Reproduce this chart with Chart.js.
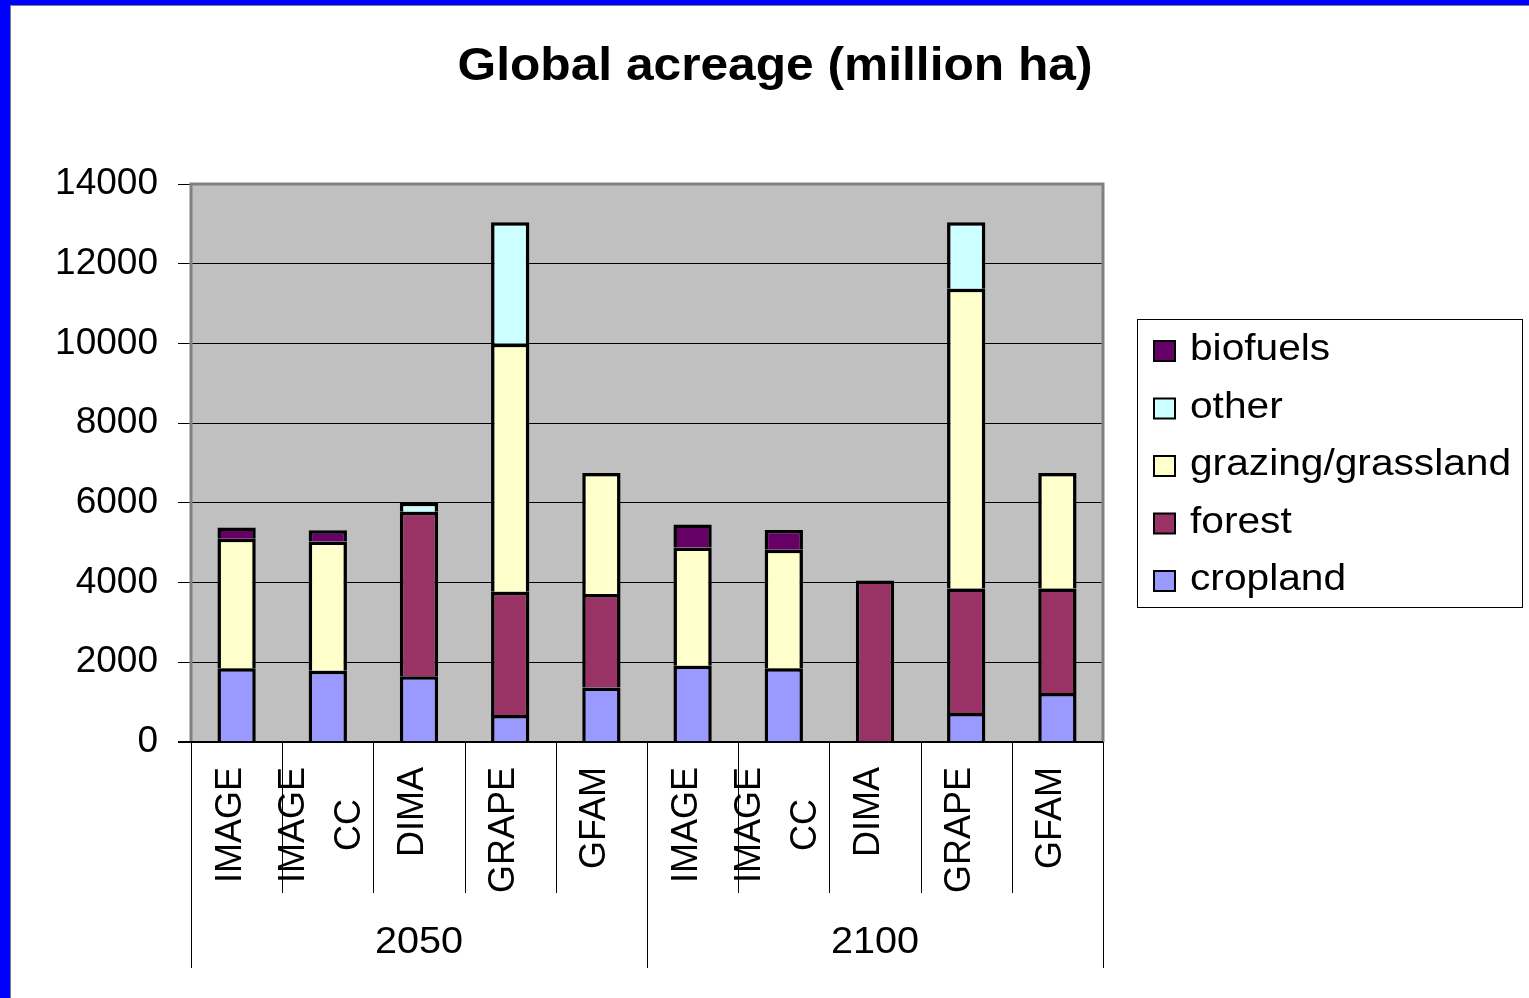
<!DOCTYPE html>
<html>
<head>
<meta charset="utf-8">
<script src="https://cdn.jsdelivr.net/npm/chart.js@4.4.1/dist/chart.umd.min.js"></script>
<style>
  html, body { margin: 0; padding: 0; background: #fff; }
  canvas { display: block; }
</style>
</head>
<body>
<canvas id="c" width="1529" height="998"></canvas>
<script>
// ---- data ----
const modelLabels = [['IMAGE'], ['IMAGE', 'CC'], ['DIMA'], ['GRAPE'], ['GFAM'],
                     ['IMAGE'], ['IMAGE', 'CC'], ['DIMA'], ['GRAPE'], ['GFAM']];
const yearGroups = ['2050', '2100'];
const modelsPerYear = 5;
const cropland = [1850, 1790, 1650, 680, 1365, 1915, 1850, null, 730, 1230];
const forest   = [null, null, 4130, 3090, 2350, null, null, 4050, 3120, 2620];
const grazing  = [3250, 3240, null, 6220, 3035, 2965, 2975, null, 7520, 2900];
const other    = [null, null, 220, 3050, null, null, null, null, 1670, null];
const biofuels = [280, 285, null, null, null, 580, 495, null, null, null];
const yTicks = [0, 2000, 4000, 6000, 8000, 10000, 12000, 14000];
const titleText = 'Global acreage (million ha)';

const FONT = "'Liberation Sans', Arial, sans-serif";

function drawText(ctx, text, x, y, font, sx, align, baseline) {
  ctx.save();
  ctx.translate(x, y);
  ctx.scale(sx, 1);
  ctx.font = font;
  ctx.textAlign = align;
  ctx.textBaseline = baseline;
  ctx.fillStyle = '#000';
  ctx.fillText(text, 0, 0);
  ctx.restore();
}

const decor = {
  id: 'decor',
  beforeDraw(chart) {
    const ctx = chart.ctx;
    const a = chart.chartArea;
    ctx.save();
    ctx.fillStyle = '#fff';
    ctx.fillRect(0, 0, chart.width, chart.height);
    // blue frame
    ctx.fillStyle = '#0000FF';
    ctx.fillRect(0, 0, chart.width, 5);
    ctx.fillRect(0, 0, 10, chart.height);
    ctx.fillStyle = '#808080';
    ctx.fillRect(10, 5, chart.width - 10, 1);
    ctx.fillRect(10, 5, 1, chart.height - 5);
    // plot background
    ctx.fillStyle = '#C0C0C0';
    ctx.fillRect(a.left, a.top, a.right - a.left, a.bottom - a.top);
    ctx.restore();
  },
  afterDatasetsDraw(chart) {
    const ctx = chart.ctx;
    const a = chart.chartArea;
    const xs = chart.scales.x;
    ctx.save();
    // plot border
    ctx.strokeStyle = '#808080';
    ctx.lineWidth = 3;
    ctx.beginPath();
    ctx.moveTo(a.left, a.bottom);
    ctx.lineTo(a.left, a.top);
    ctx.lineTo(a.right, a.top);
    ctx.lineTo(a.right, a.bottom);
    ctx.stroke();
    // x axis line
    ctx.strokeStyle = '#000';
    ctx.lineWidth = 2;
    ctx.beginPath();
    ctx.moveTo(a.left - 13, a.bottom);
    ctx.lineTo(a.right, a.bottom);
    ctx.stroke();

    // category separators
    const n = modelLabels.length;
    const step = (xs.getPixelForValue(1) - xs.getPixelForValue(0));
    ctx.lineWidth = 1;
    ctx.strokeStyle = '#000';
    for (let i = 0; i <= n; i++) {
      const x = Math.round(xs.getPixelForValue(i) - step / 2) + 0.5;
      const isGroup = (i % modelsPerYear === 0);
      ctx.beginPath();
      ctx.moveTo(x, a.bottom);
      ctx.lineTo(x, isGroup ? a.bottom + 226 : a.bottom + 151);
      ctx.stroke();
    }
    // rotated model labels
    const labFont = '36px ' + FONT;
    ctx.font = labFont;
    for (let i = 0; i < n; i++) {
      const lines = modelLabels[i];
      let maxW = 0;
      lines.forEach(l => { maxW = Math.max(maxW, ctx.measureText(l).width); });
      const cx = xs.getPixelForValue(i) - 6;
      const cy = a.bottom + 25 + maxW / 2;
      const gap = 56;
      lines.forEach((l, j) => {
        const off = (j - (lines.length - 1) / 2) * gap;
        ctx.save();
        ctx.translate(cx + off, cy);
        ctx.rotate(-Math.PI / 2);
        ctx.font = labFont;
        ctx.textAlign = 'center';
        ctx.textBaseline = 'middle';
        ctx.fillStyle = '#000';
        ctx.fillText(l, 0, 0);
        ctx.restore();
      });
    }
    // year group labels
    yearGroups.forEach((g, k) => {
      const first = k * modelsPerYear;
      const last = first + modelsPerYear - 1;
      const cx = (xs.getPixelForValue(first) + xs.getPixelForValue(last)) / 2;
      drawText(ctx, g, cx, a.bottom + 211, '36px ' + FONT, 1.1, 'center', 'alphabetic');
    });

    // title
    drawText(ctx, titleText, 775, 80, 'bold 46px ' + FONT, 1.08, 'center', 'alphabetic');

    // legend
    const lx = 1137, ly = 319, lw = 385, lh = 288;
    ctx.fillStyle = '#fff';
    ctx.fillRect(lx, ly, lw, lh);
    ctx.strokeStyle = '#000';
    ctx.lineWidth = 1;
    ctx.strokeRect(lx + 0.5, ly + 0.5, lw, lh);
    const ds = chart.data.datasets.slice().reverse();
    ds.forEach((d, j) => {
      const cy = 351 + j * 57.5;
      ctx.fillStyle = d.backgroundColor;
      ctx.fillRect(1154, cy - 10, 21, 20);
      ctx.strokeStyle = '#000';
      ctx.lineWidth = 2;
      ctx.strokeRect(1154, cy - 10, 21, 20);
      drawText(ctx, d.label, 1190, cy + 9, '36px ' + FONT, 1.13, 'left', 'alphabetic');
    });
    ctx.restore();
  }
};

const mkDs = (label, data, color) => ({
  label, data,
  backgroundColor: color,
  borderColor: '#000',
  borderWidth: 3.5,
  borderSkipped: 'bottom',
  categoryPercentage: 1.0,
  barPercentage: 0.42
});

new Chart(document.getElementById('c'), {
  type: 'bar',
  data: {
    labels: modelLabels.map(l => l.join(' ')),
    datasets: [
      mkDs('cropland', cropland, '#9999FF'),
      mkDs('forest', forest, '#993366'),
      mkDs('grazing/grassland', grazing, '#FFFFCC'),
      mkDs('other', other, '#CCFFFF'),
      mkDs('biofuels', biofuels, '#660066')
    ]
  },
  options: {
    responsive: false,
    animation: false,
    layout: { padding: { left: 0, top: 184, right: 426, bottom: 256 } },
    plugins: {
      legend: { display: false },
      title: { display: false },
      tooltip: { enabled: false }
    },
    scales: {
      x: { stacked: true, display: false, offset: true },
      y: {
        stacked: true,
        min: yTicks[0],
        max: yTicks[yTicks.length - 1],
        afterFit: s => { s.width = 191; },
        afterBuildTicks: s => { s.ticks = yTicks.map(v => ({ value: v })); },
        ticks: {
          color: '#000',
          padding: 20,
          font: { size: 37, family: FONT },
          callback: v => String(v)
        },
        grid: { color: '#000', lineWidth: 1, tickLength: 13 },
        border: { display: false }
      }
    }
  },
  plugins: [decor]
});
</script>
</body>
</html>
